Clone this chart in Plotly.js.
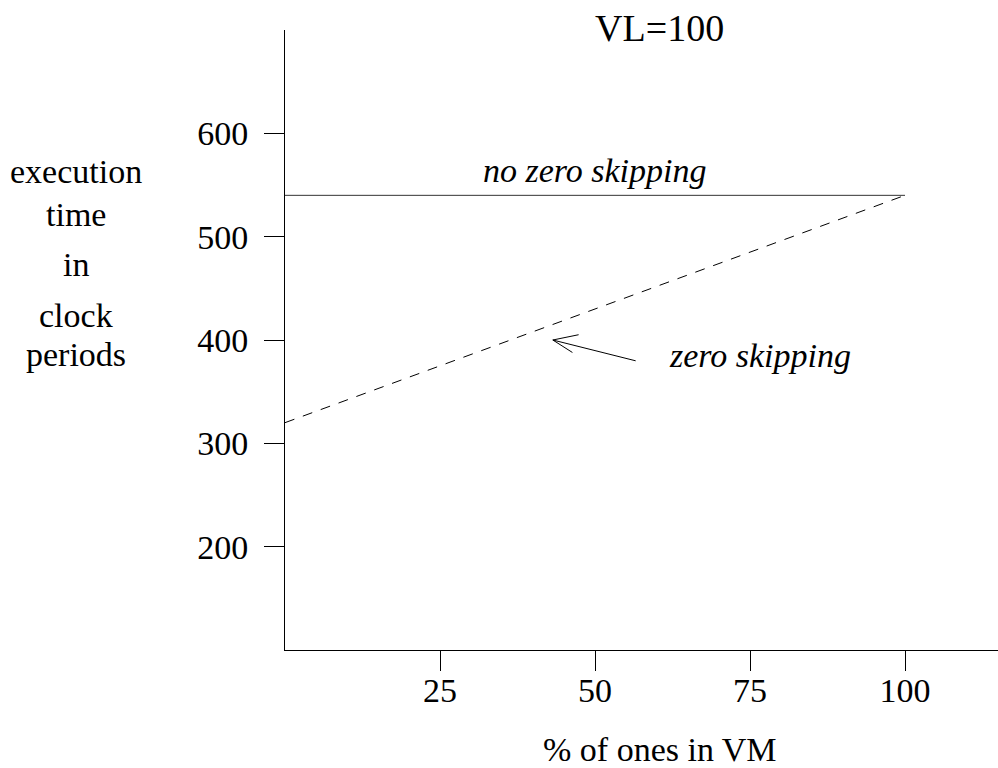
<!DOCTYPE html>
<html>
<head>
<meta charset="utf-8">
<script src="https://cdn.plot.ly/plotly-3.0.1.min.js"></script>
<style>html,body{margin:0;padding:0;background:#fff;}#chart{width:998px;height:768px;}</style>
</head>
<body>
<div id="chart"></div>
<script>
// Data
var pctOnes = [0, 100];
var noZeroSkipping = [540, 540];
var zeroSkipping = [320, 540];
var xTickVals = [25, 50, 75, 100];
var yTickVals = [200, 300, 400, 500, 600];
var titleText = "VL=100";
var xLabel = "% of ones in VM";
var yLabelLines = ["execution", "time", "in", "clock", "periods"];
var yLabelPos = [0.771, 0.703, 0.621, 0.539, 0.477];
// pointer arrow for "zero skipping" (tip, tail, open-head barb ends)
var arrowTip = [43.2, 400];
var arrowTail = [56.8, 379.5];
var arrowBarbs = [[47.6, 405.4], [46.6, 387.0]];

var FONT = "Liberation Serif, Times New Roman, serif";

var traces = [
  {x: pctOnes, y: noZeroSkipping, mode: "lines", line: {color: "#333", width: 1}, hoverinfo: "none", showlegend: false},
  {x: pctOnes, y: zeroSkipping, mode: "lines", line: {color: "#000", width: 1, dash: "10px,9px"}, hoverinfo: "none", showlegend: false}
];

function seg(from, to) {
  return {x: to[0], y: to[1], ax: from[0], ay: from[1], xref: "x", yref: "y", axref: "x", ayref: "y",
          text: "", showarrow: true, arrowhead: 0, arrowwidth: 1, arrowcolor: "#000", standoff: 0, startstandoff: 0};
}

var annotations = [
  {x: 50, y: 564, xref: "x", yref: "y", text: "<i>no zero skipping</i>", showarrow: false, xanchor: "center", yanchor: "middle", font: {family: FONT, size: 34, color: "#000"}},
  {x: 76.6, y: 385, xref: "x", yref: "y", text: "<i>zero skipping</i>", showarrow: false, xanchor: "center", yanchor: "middle", font: {family: FONT, size: 34, color: "#000"}},
  seg(arrowTail, arrowTip),
  seg(arrowBarbs[0], arrowTip),
  seg(arrowBarbs[1], arrowTip),
  {x: 0.5254, y: -0.1605, xref: "paper", yref: "paper", text: xLabel, showarrow: false, xanchor: "center", yanchor: "middle", font: {family: FONT, size: 34, color: "#000"}}
];
yLabelLines.forEach(function (t, i) {
  annotations.push({x: -0.2938, y: yLabelPos[i], xref: "paper", yref: "paper", text: t, showarrow: false, xanchor: "center", yanchor: "middle", font: {family: FONT, size: 34, color: "#000"}});
});

var layout = {
  width: 998, height: 768,
  margin: {l: 285, r: 0, t: 30, b: 118, pad: 0},
  paper_bgcolor: "#fff", plot_bgcolor: "#fff",
  font: {family: FONT, size: 34, color: "#000"},
  title: {text: titleText, font: {family: FONT, size: 38, color: "#000"}, xref: "paper", x: 0.5254, xanchor: "center", yref: "container", y: 0.964, yanchor: "middle"},
  xaxis: {range: [0, 115], tickvals: xTickVals, ticks: "outside", ticklen: 20, tickwidth: 1, tickcolor: "#000",
          showline: true, linecolor: "#000", linewidth: 1, showgrid: false, zeroline: false, fixedrange: true,
          ticklabelstandoff: -10,
          tickfont: {family: FONT, size: 34, color: "#000"}},
  yaxis: {range: [100, 700], tickvals: yTickVals, ticks: "outside", ticklen: 20, tickwidth: 1, tickcolor: "#000",
          showline: true, linecolor: "#000", linewidth: 1, showgrid: false, zeroline: false, fixedrange: true,
          ticklabelstandoff: 9,
          tickfont: {family: FONT, size: 34, color: "#000"}},
  annotations: annotations,
  showlegend: false
};

Plotly.newPlot("chart", traces, layout, {staticPlot: true, displayModeBar: false});
</script>
</body>
</html>
